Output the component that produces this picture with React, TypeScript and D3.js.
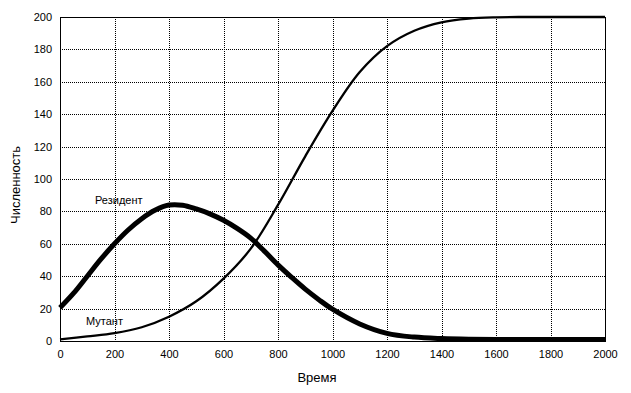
import React, { useEffect, useRef } from "react";
import * as d3 from "d3";

// Time points and population sizes
const residentTime = [0, 50, 100, 150, 200, 250, 300, 350, 400, 450, 500, 550, 600, 650, 700, 750, 800, 850, 900, 950, 1000, 1100, 1200, 1300, 1400, 1500, 1600, 1700, 1800, 1900, 2000];
const residentValues = [20.5, 29.5, 40, 50.5, 60, 68.5, 75.5, 80.8, 83.9, 83.8, 81.5, 78.5, 74.5, 69.5, 63.5, 55.5, 47, 39.3, 32, 25.5, 19.6, 10.5, 4.7, 2.4, 1.5, 1.1, 1, 1, 1, 1, 1];

const mutantTime = [0, 100, 200, 300, 400, 500, 600, 700, 800, 900, 1000, 1100, 1200, 1300, 1400, 1500, 1600, 1700, 1800, 1900, 2000];
const mutantValues = [1, 2.8, 4.8, 8.5, 15, 24.5, 38.5, 57, 84, 114, 142, 166, 182, 191.5, 196.7, 199, 199.8, 200, 200, 200, 200];

const xTicks = [0, 200, 400, 600, 800, 1000, 1200, 1400, 1600, 1800, 2000];
const yTicks = [0, 20, 40, 60, 80, 100, 120, 140, 160, 180, 200];

const App = () => {
  const svgRef = useRef<SVGSVGElement>(null);

  useEffect(() => {
    const W = 631;
    const H = 393;
    const left = 60, right = 605, top = 17, bottom = 341;
    const font = "'Liberation Sans', Arial, sans-serif";

    const svg = d3.select(svgRef.current).attr("width", W).attr("height", H);
    svg.selectAll("*").remove();

    svg.append("rect").attr("width", W).attr("height", H).attr("fill", "#fff");

    const x = d3.scaleLinear().domain([0, 2000]).range([left, right]);
    const y = d3.scaleLinear().domain([0, 200]).range([bottom, top]);

    // dotted grid
    const grid = svg.append("g").attr("stroke", "#000").attr("stroke-dasharray", "1,1").attr("shape-rendering", "crispEdges");
    grid.selectAll(".gx")
      .data(xTicks.slice(1, -1))
      .join("line")
      .attr("x1", (d) => Math.round(x(d)) + 0.5)
      .attr("x2", (d) => Math.round(x(d)) + 0.5)
      .attr("y1", top)
      .attr("y2", bottom);
    grid.selectAll(".gy")
      .data(yTicks.slice(1, -1))
      .join("line")
      .attr("y1", (d) => Math.round(y(d)) + 0.5)
      .attr("y2", (d) => Math.round(y(d)) + 0.5)
      .attr("x1", left)
      .attr("x2", right);

    // frame
    svg.append("rect")
      .attr("x", left + 0.5)
      .attr("y", top + 0.5)
      .attr("width", right - left)
      .attr("height", bottom - top)
      .attr("fill", "none")
      .attr("stroke", "#000")
      .attr("stroke-width", 1)
      .attr("shape-rendering", "crispEdges");

    // axes without tick marks
    const xAxis = svg.append("g")
      .attr("transform", `translate(0,${bottom})`)
      .call(d3.axisBottom(x).tickValues(xTicks).tickSize(0).tickPadding(9).tickFormat(d3.format("d")));
    xAxis.select(".domain").remove();
    xAxis.selectAll("text").attr("font-family", font).attr("font-size", 11).attr("fill", "#000");

    const yAxis = svg.append("g")
      .attr("transform", `translate(${left},0)`)
      .call(d3.axisLeft(y).tickValues(yTicks).tickSize(0).tickPadding(8).tickFormat(d3.format("d")));
    yAxis.select(".domain").remove();
    yAxis.selectAll("text").attr("font-family", font).attr("font-size", 11).attr("fill", "#000");

    // curves
    const line = d3.line<[number, number]>()
      .x((d) => x(d[0]))
      .y((d) => y(d[1]))
      .curve(d3.curveCatmullRom.alpha(0.5));

    svg.append("path")
      .datum(mutantTime.map((t, i) => [t, mutantValues[i]] as [number, number]))
      .attr("d", line)
      .attr("fill", "none")
      .attr("stroke", "#000")
      .attr("stroke-width", 2.3);

    svg.append("path")
      .datum(residentTime.map((t, i) => [t, residentValues[i]] as [number, number]))
      .attr("d", line)
      .attr("fill", "none")
      .attr("stroke", "#000")
      .attr("stroke-width", 5);

    // curve labels
    svg.append("text")
      .attr("x", 95)
      .attr("y", 204)
      .attr("font-family", font)
      .attr("font-size", 11)
      .text("Резидент");
    svg.append("text")
      .attr("x", 86)
      .attr("y", 325)
      .attr("font-family", font)
      .attr("font-size", 11)
      .text("Мутант");

    // axis titles
    svg.append("text")
      .attr("x", 317)
      .attr("y", 382)
      .attr("text-anchor", "middle")
      .attr("font-family", font)
      .attr("font-size", 13)
      .text("Время");
    svg.append("text")
      .attr("transform", "translate(20,185) rotate(-90)")
      .attr("text-anchor", "middle")
      .attr("font-family", font)
      .attr("font-size", 13)
      .text("Численность");
  }, []);

  return <svg ref={svgRef} style={{ position: "absolute", left: 0, top: 0, display: "block" }}></svg>;
};

export default App;
